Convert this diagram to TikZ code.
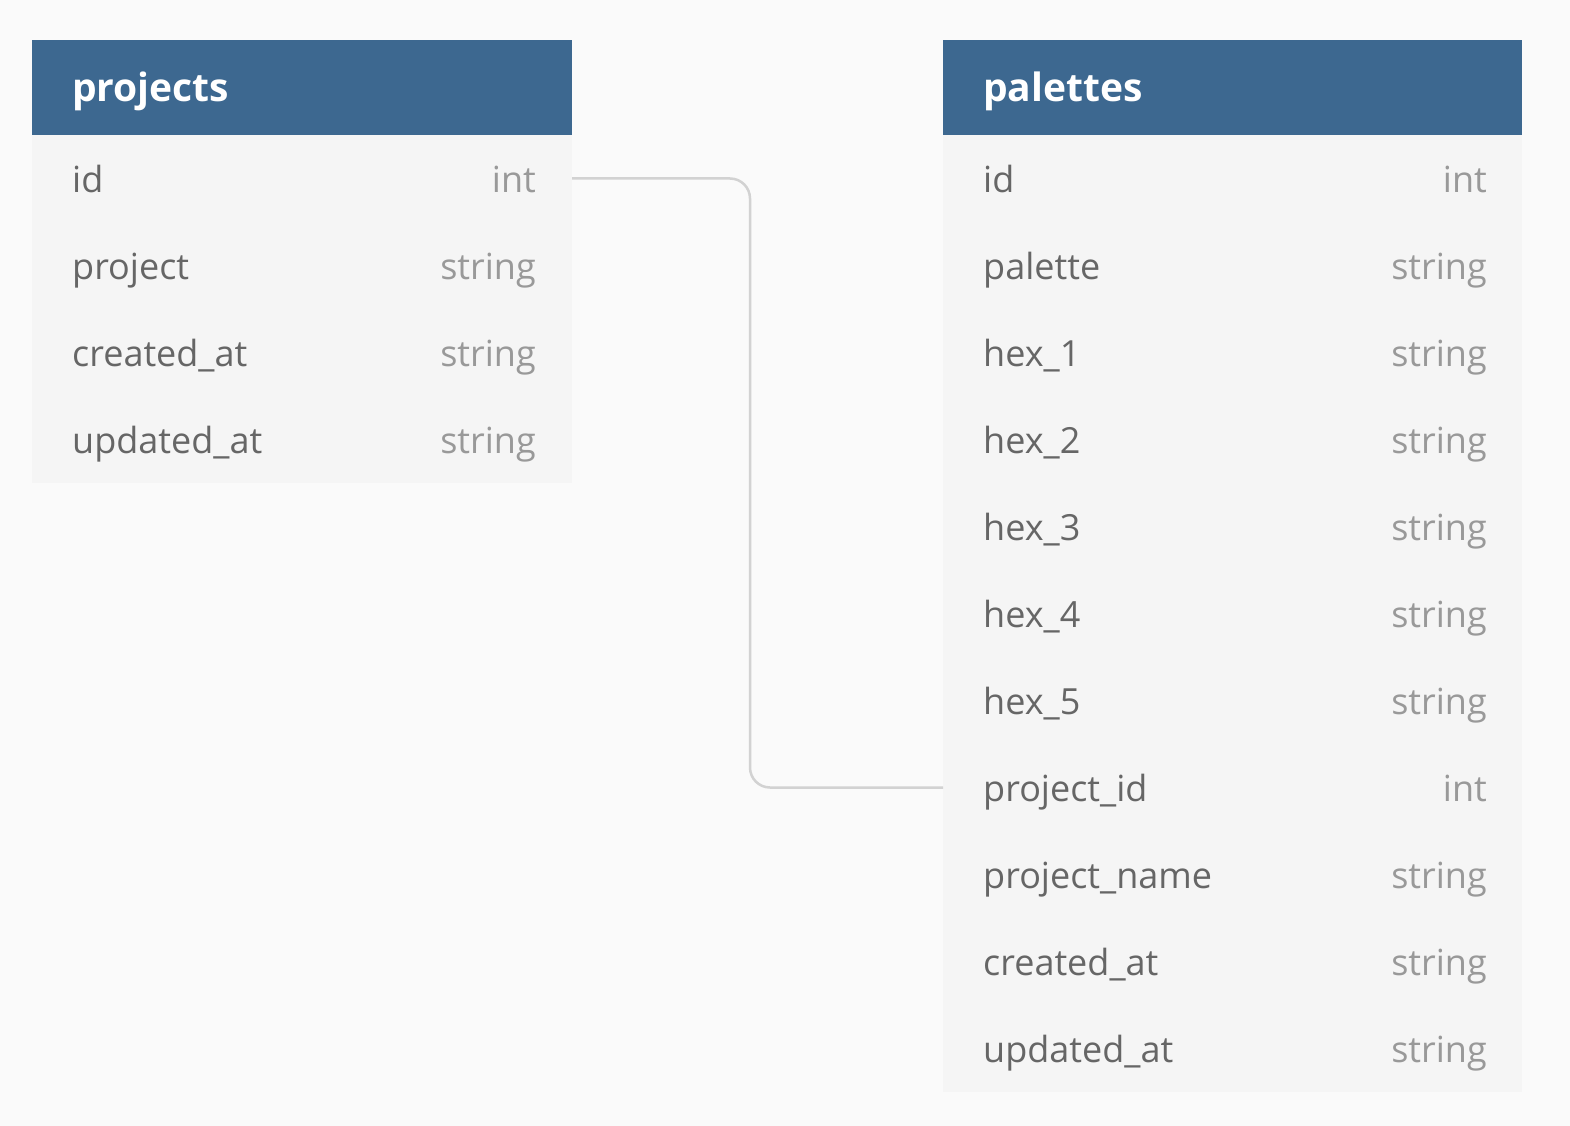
\documentclass[tikz,border=0pt]{standalone}
\usepackage{fontspec}
\setmainfont{Open Sans}
\usepackage{tikz}
\usetikzlibrary{calc,positioning}

\definecolor{headblue}{HTML}{3D6890}
\definecolor{rowgray}{HTML}{F5F5F5}
\definecolor{backgray}{HTML}{FAFAFA}
\definecolor{namegray}{HTML}{666666}
\definecolor{typegray}{HTML}{999999}
\definecolor{linkgray}{HTML}{D2D2D2}

\begin{document}
\begin{tikzpicture}[x=1pt,y=-1pt,
	head/.style={fill=headblue, minimum width=#1, minimum height=95pt, inner sep=0pt, outer sep=0pt, anchor=north west},
	rowbox/.style={fill=rowgray, minimum width=#1, minimum height=87pt, inner sep=0pt, outer sep=0pt, anchor=north west},
	htext/.style={text=white, font=\fontsize{39}{46}\selectfont\bfseries, inner sep=0pt, anchor=base west},
	fname/.style={text=namegray, font=\fontsize{36}{43}\selectfont, inner sep=0pt, anchor=base west},
	ftype/.style={text=typegray, font=\fontsize{36}{43}\selectfont, inner sep=0pt, anchor=base east},
	link/.style={draw=linkgray, line width=2.5pt, rounded corners=20pt}]
		
		\fill[backgray] (0,0) rectangle (1570,1126);
		\useasboundingbox (0,0) rectangle (1570,1126);
		
		% projects
		\node[head=540pt] (pr-h) at (32,40) {};
		\node[htext] (pr-t) at ($(pr-h.west)+(40,14)$) {projects};
		
		\foreach \name/\type [count=\i] in {id/int, project/string, created\_at/string, updated\_at/string}{
			\node[rowbox=540pt] (pr-\i) at (32,{135+(\i-1)*87}) {};
			\node[fname] (pr-\i-n) at ($(pr-\i.west)+(40,14)$) {\name};
			\node[ftype] (pr-\i-t) at ($(pr-\i.east)+(-36,14)$) {\type};
		}
		
		% palettes
		\node[head=579pt] (pa-h) at (943,40) {};
		\node[htext] (pa-t) at ($(pa-h.west)+(40,14)$) {palettes};
		
		\foreach \name/\type [count=\i] in {id/int, palette/string, hex\_1/string, hex\_2/string, hex\_3/string, hex\_4/string, hex\_5/string, project\_id/int, project\_name/string, created\_at/string, updated\_at/string}{
			\node[rowbox=579pt] (pa-\i) at (943,{135+(\i-1)*87}) {};
			\node[fname] (pa-\i-n) at ($(pa-\i.west)+(40,14)$) {\name};
			\node[ftype] (pa-\i-t) at ($(pa-\i.east)+(-35,14)$) {\type};
		}
		
		%\draw[red] (750,0)--(750,1126);
		\coordinate (bend) at (750,0);
		\draw[link] (pr-1.east) -- (pr-1.east -| bend) -- (pa-8.west -| bend) -- (pa-8.west);
		
	\end{tikzpicture}
\end{document}
